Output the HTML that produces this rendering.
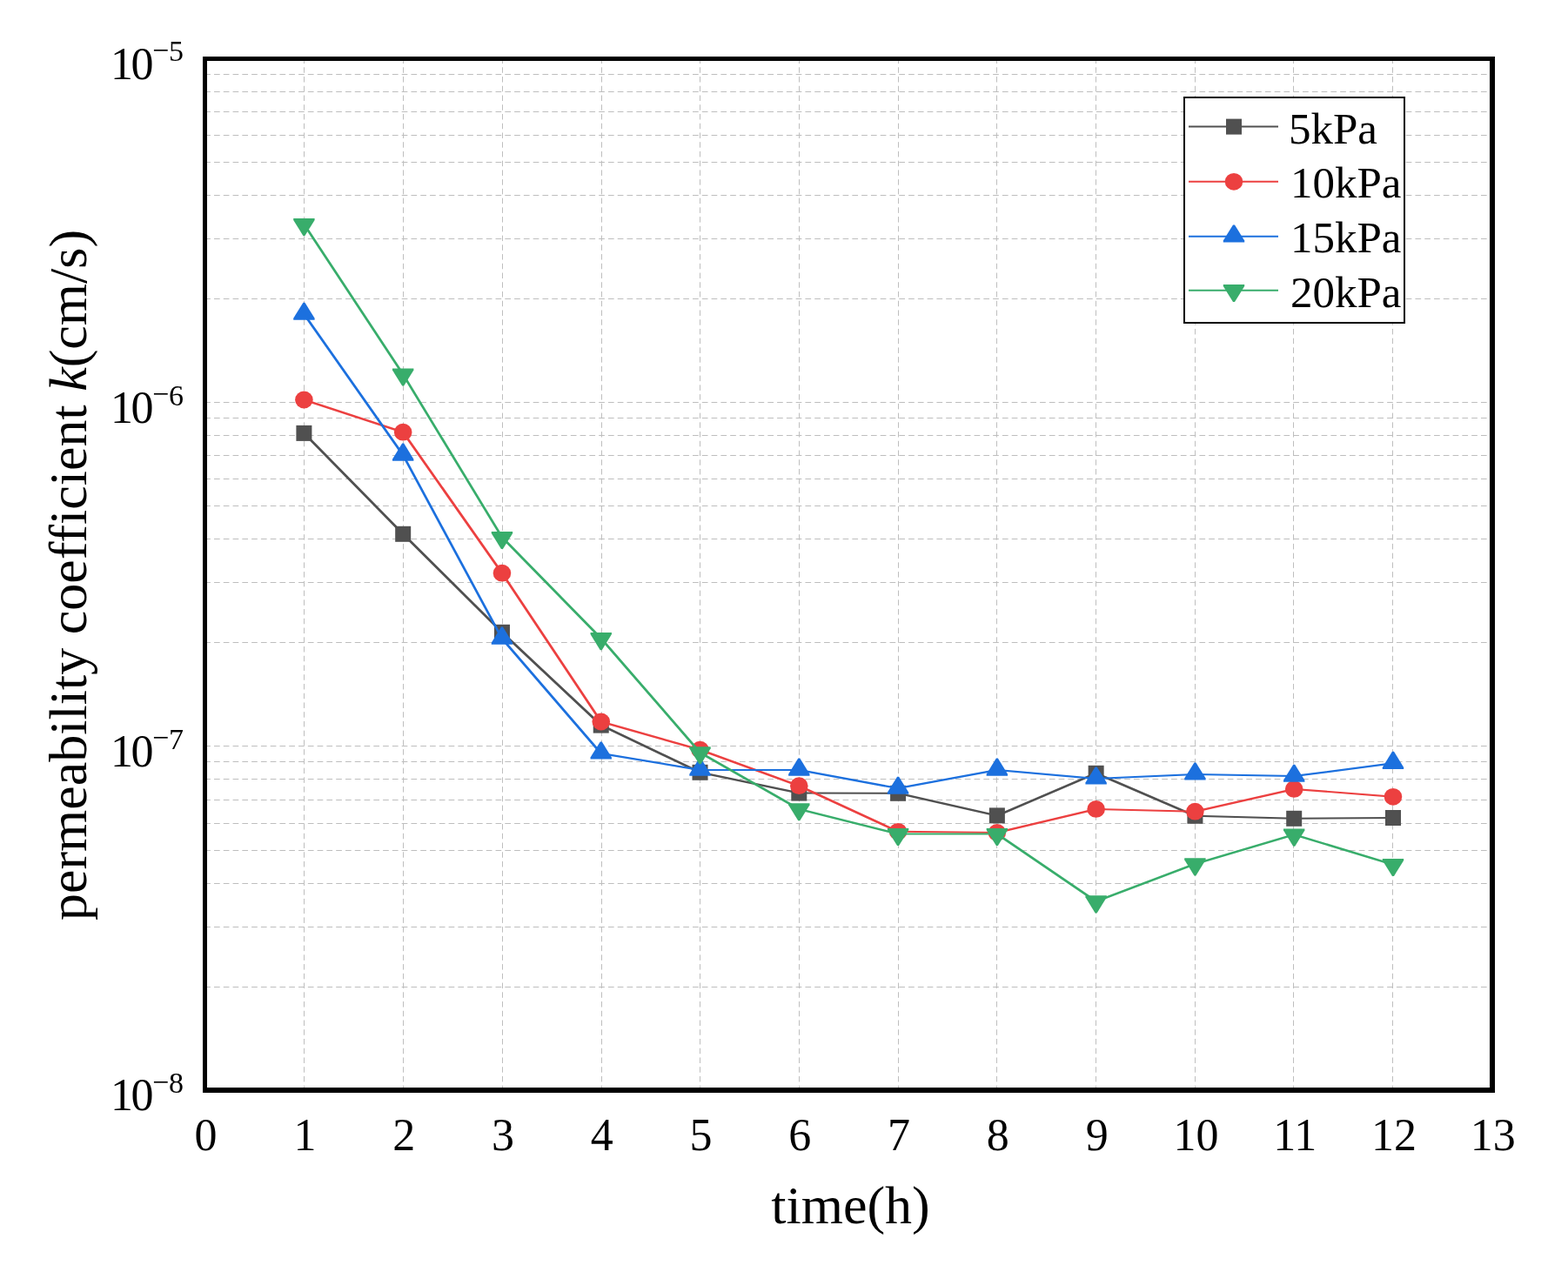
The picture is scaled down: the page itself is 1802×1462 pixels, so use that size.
<!DOCTYPE html>
<html><head><meta charset="utf-8"><style>
html,body{margin:0;padding:0;background:#fff;}
svg{display:block;}
text{font-family:"Liberation Serif","DejaVu Serif",serif;fill:#000;}
.tk{font-size:52px;}
.sp{font-size:34px;}
.lg{font-size:51px;}
.at{font-size:62px;}
</style></head><body>
<svg width="1802" height="1462" viewBox="0 0 1802 1462">
<rect width="1802" height="1462" fill="#fff"/>
<g stroke="#bebebe" stroke-width="1" stroke-dasharray="6.7 4.085" fill="none"><line x1="235.2" y1="1134.50" x2="1712" y2="1134.50"/><line x1="235.2" y1="1065.50" x2="1712" y2="1065.50"/><line x1="235.2" y1="1015.50" x2="1712" y2="1015.50"/><line x1="235.2" y1="977.50" x2="1712" y2="977.50"/><line x1="235.2" y1="946.50" x2="1712" y2="946.50"/><line x1="235.2" y1="919.50" x2="1712" y2="919.50"/><line x1="235.2" y1="895.50" x2="1712" y2="895.50"/><line x1="235.2" y1="875.50" x2="1712" y2="875.50"/><line x1="235.2" y1="857.50" x2="1712" y2="857.50"/><line x1="235.2" y1="738.50" x2="1712" y2="738.50"/><line x1="235.2" y1="669.50" x2="1712" y2="669.50"/><line x1="235.2" y1="619.50" x2="1712" y2="619.50"/><line x1="235.2" y1="581.50" x2="1712" y2="581.50"/><line x1="235.2" y1="550.50" x2="1712" y2="550.50"/><line x1="235.2" y1="523.50" x2="1712" y2="523.50"/><line x1="235.2" y1="500.50" x2="1712" y2="500.50"/><line x1="235.2" y1="480.50" x2="1712" y2="480.50"/><line x1="235.2" y1="462.50" x2="1712" y2="462.50"/><line x1="235.2" y1="343.50" x2="1712" y2="343.50"/><line x1="235.2" y1="274.50" x2="1712" y2="274.50"/><line x1="235.2" y1="224.50" x2="1712" y2="224.50"/><line x1="235.2" y1="186.50" x2="1712" y2="186.50"/><line x1="235.2" y1="155.50" x2="1712" y2="155.50"/><line x1="235.2" y1="128.50" x2="1712" y2="128.50"/><line x1="235.2" y1="105.50" x2="1712" y2="105.50"/><line x1="235.2" y1="85.50" x2="1712" y2="85.50"/></g>
<g stroke="#bebebe" stroke-width="1" stroke-dasharray="6.5 4.2375" fill="none"><line x1="349.50" y1="66.56" x2="349.50" y2="1250"/><line x1="463.50" y1="66.56" x2="463.50" y2="1250"/><line x1="577.50" y1="66.56" x2="577.50" y2="1250"/><line x1="691.50" y1="66.56" x2="691.50" y2="1250"/><line x1="804.50" y1="66.56" x2="804.50" y2="1250"/><line x1="918.50" y1="66.56" x2="918.50" y2="1250"/><line x1="1032.50" y1="66.56" x2="1032.50" y2="1250"/><line x1="1145.50" y1="66.56" x2="1145.50" y2="1250"/><line x1="1259.50" y1="66.56" x2="1259.50" y2="1250"/><line x1="1373.50" y1="66.56" x2="1373.50" y2="1250"/><line x1="1486.50" y1="66.56" x2="1486.50" y2="1250"/><line x1="1600.50" y1="66.56" x2="1600.50" y2="1250"/></g>
<path d="M348.40,496.90 L350.40,496.90 L464.18,612.80 L464.18,614.80 L462.18,614.80 L348.40,498.90ZM462.18,612.80 L464.18,612.80 L577.96,725.80 L577.96,727.80 L575.96,727.80 L462.18,614.80ZM575.96,725.80 L577.96,725.80 L691.74,832.60 L691.74,834.60 L689.74,834.60 L575.96,727.80ZM689.74,832.60 L691.74,832.60 L805.52,886.80 L805.52,888.80 L803.52,888.80 L689.74,834.60ZM803.52,886.80 L805.52,886.80 L919.30,910.60 L919.30,912.60 L917.30,912.60 L803.52,888.80ZM917.30,910.60 L919.30,910.60 L1033.08,910.80 L1033.08,912.80 L1031.08,912.80 L917.30,912.60ZM1031.08,910.80 L1033.08,910.80 L1146.86,936.40 L1146.86,938.40 L1144.86,938.40 L1031.08,912.80ZM1144.86,936.40 L1258.64,887.80 L1260.64,887.80 L1260.64,889.80 L1146.86,938.40 L1144.86,938.40ZM1258.64,887.80 L1260.64,887.80 L1374.42,936.80 L1374.42,938.80 L1372.42,938.80 L1258.64,889.80ZM1372.42,936.80 L1374.42,936.80 L1488.20,939.80 L1488.20,941.80 L1486.20,941.80 L1372.42,938.80ZM1486.20,939.80 L1599.98,939.00 L1601.98,939.00 L1601.98,941.00 L1488.20,941.80 L1486.20,941.80Z" fill="#505050"/>
<rect x="340.40" y="488.90" width="18.0" height="18.0" fill="#505050"/><rect x="454.18" y="604.80" width="18.0" height="18.0" fill="#505050"/><rect x="567.96" y="717.80" width="18.0" height="18.0" fill="#505050"/><rect x="681.74" y="824.60" width="18.0" height="18.0" fill="#505050"/><rect x="795.52" y="878.80" width="18.0" height="18.0" fill="#505050"/><rect x="909.30" y="902.60" width="18.0" height="18.0" fill="#505050"/><rect x="1023.08" y="902.80" width="18.0" height="18.0" fill="#505050"/><rect x="1136.86" y="928.40" width="18.0" height="18.0" fill="#505050"/><rect x="1250.64" y="879.80" width="18.0" height="18.0" fill="#505050"/><rect x="1364.42" y="928.80" width="18.0" height="18.0" fill="#505050"/><rect x="1478.20" y="931.80" width="18.0" height="18.0" fill="#505050"/><rect x="1591.98" y="931.00" width="18.0" height="18.0" fill="#505050"/>
<path d="M348.40,458.50 L350.40,458.50 L464.18,495.70 L464.18,497.70 L462.18,497.70 L348.40,460.50ZM462.18,495.70 L464.18,495.70 L577.96,657.70 L577.96,659.70 L575.96,659.70 L462.18,497.70ZM575.96,657.70 L577.96,657.70 L691.74,828.50 L691.74,830.50 L689.74,830.50 L575.96,659.70ZM689.74,828.50 L691.74,828.50 L805.52,860.70 L805.52,862.70 L803.52,862.70 L689.74,830.50ZM803.52,860.70 L805.52,860.70 L919.30,902.20 L919.30,904.20 L917.30,904.20 L803.52,862.70ZM917.30,902.20 L919.30,902.20 L1033.08,954.80 L1033.08,956.80 L1031.08,956.80 L917.30,904.20ZM1031.08,954.80 L1033.08,954.80 L1146.86,956.00 L1146.86,958.00 L1144.86,958.00 L1031.08,956.80ZM1144.86,956.00 L1258.64,928.90 L1260.64,928.90 L1260.64,930.90 L1146.86,958.00 L1144.86,958.00ZM1258.64,928.90 L1260.64,928.90 L1374.42,931.70 L1374.42,933.70 L1372.42,933.70 L1258.64,930.90ZM1372.42,931.70 L1486.20,905.90 L1488.20,905.90 L1488.20,907.90 L1374.42,933.70 L1372.42,933.70ZM1486.20,905.90 L1488.20,905.90 L1601.98,914.80 L1601.98,916.80 L1599.98,916.80 L1486.20,907.90Z" fill="#ec4040"/>
<ellipse cx="349.40" cy="459.50" rx="10.3" ry="9.9" fill="#ec4040"/><ellipse cx="463.18" cy="496.70" rx="10.3" ry="9.9" fill="#ec4040"/><ellipse cx="576.96" cy="658.70" rx="10.3" ry="9.9" fill="#ec4040"/><ellipse cx="690.74" cy="829.50" rx="10.3" ry="9.9" fill="#ec4040"/><ellipse cx="804.52" cy="861.70" rx="10.3" ry="9.9" fill="#ec4040"/><ellipse cx="918.30" cy="903.20" rx="10.3" ry="9.9" fill="#ec4040"/><ellipse cx="1032.08" cy="955.80" rx="10.3" ry="9.9" fill="#ec4040"/><ellipse cx="1145.86" cy="957.00" rx="10.3" ry="9.9" fill="#ec4040"/><ellipse cx="1259.64" cy="929.90" rx="10.3" ry="9.9" fill="#ec4040"/><ellipse cx="1373.42" cy="932.70" rx="10.3" ry="9.9" fill="#ec4040"/><ellipse cx="1487.20" cy="906.90" rx="10.3" ry="9.9" fill="#ec4040"/><ellipse cx="1600.98" cy="915.80" rx="10.3" ry="9.9" fill="#ec4040"/>
<path d="M348.40,360.10 L350.40,360.10 L464.18,522.00 L464.18,524.00 L462.18,524.00 L348.40,362.10ZM462.18,522.00 L464.18,522.00 L577.96,733.00 L577.96,735.00 L575.96,735.00 L462.18,524.00ZM575.96,733.00 L577.96,733.00 L691.74,864.90 L691.74,866.90 L689.74,866.90 L575.96,735.00ZM689.74,864.90 L691.74,864.90 L805.52,884.00 L805.52,886.00 L803.52,886.00 L689.74,866.90ZM803.52,884.00 L919.30,884.00 L919.30,886.00 L803.52,886.00ZM917.30,884.00 L919.30,884.00 L1033.08,905.10 L1033.08,907.10 L1031.08,907.10 L917.30,886.00ZM1031.08,905.10 L1144.86,884.00 L1146.86,884.00 L1146.86,886.00 L1033.08,907.10 L1031.08,907.10ZM1144.86,884.00 L1146.86,884.00 L1260.64,893.90 L1260.64,895.90 L1258.64,895.90 L1144.86,886.00ZM1258.64,893.90 L1372.42,888.90 L1374.42,888.90 L1374.42,890.90 L1260.64,895.90 L1258.64,895.90ZM1372.42,888.90 L1374.42,888.90 L1488.20,891.10 L1488.20,893.10 L1486.20,893.10 L1372.42,890.90ZM1486.20,891.10 L1599.98,876.20 L1601.98,876.20 L1601.98,878.20 L1488.20,893.10 L1486.20,893.10Z" fill="#1c70de"/>
<polygon points="337.20,365.80 348.40,347.70 350.40,347.70 361.60,365.80 361.60,367.80 337.20,367.80" fill="#1c70de"/><polygon points="450.98,527.70 462.18,509.60 464.18,509.60 475.38,527.70 475.38,529.70 450.98,529.70" fill="#1c70de"/><polygon points="564.76,738.70 575.96,720.60 577.96,720.60 589.16,738.70 589.16,740.70 564.76,740.70" fill="#1c70de"/><polygon points="678.54,870.60 689.74,852.50 691.74,852.50 702.94,870.60 702.94,872.60 678.54,872.60" fill="#1c70de"/><polygon points="792.32,889.70 803.52,871.60 805.52,871.60 816.72,889.70 816.72,891.70 792.32,891.70" fill="#1c70de"/><polygon points="906.10,889.70 917.30,871.60 919.30,871.60 930.50,889.70 930.50,891.70 906.10,891.70" fill="#1c70de"/><polygon points="1019.88,910.80 1031.08,892.70 1033.08,892.70 1044.28,910.80 1044.28,912.80 1019.88,912.80" fill="#1c70de"/><polygon points="1133.66,889.70 1144.86,871.60 1146.86,871.60 1158.06,889.70 1158.06,891.70 1133.66,891.70" fill="#1c70de"/><polygon points="1247.44,899.60 1258.64,881.50 1260.64,881.50 1271.84,899.60 1271.84,901.60 1247.44,901.60" fill="#1c70de"/><polygon points="1361.22,894.60 1372.42,876.50 1374.42,876.50 1385.62,894.60 1385.62,896.60 1361.22,896.60" fill="#1c70de"/><polygon points="1475.00,896.80 1486.20,878.70 1488.20,878.70 1499.40,896.80 1499.40,898.80 1475.00,898.80" fill="#1c70de"/><polygon points="1588.78,881.90 1599.98,863.80 1601.98,863.80 1613.18,881.90 1613.18,883.90 1588.78,883.90" fill="#1c70de"/>
<path d="M348.40,256.70 L350.40,256.70 L464.18,429.20 L464.18,431.20 L462.18,431.20 L348.40,258.70ZM462.18,429.20 L464.18,429.20 L577.96,616.60 L577.96,618.60 L575.96,618.60 L462.18,431.20ZM575.96,616.60 L577.96,616.60 L691.74,732.80 L691.74,734.80 L689.74,734.80 L575.96,618.60ZM689.74,732.80 L691.74,732.80 L805.52,863.90 L805.52,865.90 L803.52,865.90 L689.74,734.80ZM803.52,863.90 L805.52,863.90 L919.30,928.90 L919.30,930.90 L917.30,930.90 L803.52,865.90ZM917.30,928.90 L919.30,928.90 L1033.08,957.60 L1033.08,959.60 L1031.08,959.60 L917.30,930.90ZM1031.08,957.60 L1146.86,957.60 L1146.86,959.60 L1031.08,959.60ZM1144.86,957.60 L1146.86,957.60 L1260.64,1035.00 L1260.64,1037.00 L1258.64,1037.00 L1144.86,959.60ZM1258.64,1035.00 L1372.42,992.00 L1374.42,992.00 L1374.42,994.00 L1260.64,1037.00 L1258.64,1037.00ZM1372.42,992.00 L1486.20,958.30 L1488.20,958.30 L1488.20,960.30 L1374.42,994.00 L1372.42,994.00ZM1486.20,958.30 L1488.20,958.30 L1601.98,992.70 L1601.98,994.70 L1599.98,994.70 L1486.20,960.30Z" fill="#38ad6b"/>
<polygon points="337.20,251.00 361.60,251.00 361.60,253.00 350.40,271.10 348.40,271.10 337.20,253.00" fill="#38ad6b"/><polygon points="450.98,423.50 475.38,423.50 475.38,425.50 464.18,443.60 462.18,443.60 450.98,425.50" fill="#38ad6b"/><polygon points="564.76,610.90 589.16,610.90 589.16,612.90 577.96,631.00 575.96,631.00 564.76,612.90" fill="#38ad6b"/><polygon points="678.54,727.10 702.94,727.10 702.94,729.10 691.74,747.20 689.74,747.20 678.54,729.10" fill="#38ad6b"/><polygon points="792.32,858.20 816.72,858.20 816.72,860.20 805.52,878.30 803.52,878.30 792.32,860.20" fill="#38ad6b"/><polygon points="906.10,923.20 930.50,923.20 930.50,925.20 919.30,943.30 917.30,943.30 906.10,925.20" fill="#38ad6b"/><polygon points="1019.88,951.90 1044.28,951.90 1044.28,953.90 1033.08,972.00 1031.08,972.00 1019.88,953.90" fill="#38ad6b"/><polygon points="1133.66,951.90 1158.06,951.90 1158.06,953.90 1146.86,972.00 1144.86,972.00 1133.66,953.90" fill="#38ad6b"/><polygon points="1247.44,1029.30 1271.84,1029.30 1271.84,1031.30 1260.64,1049.40 1258.64,1049.40 1247.44,1031.30" fill="#38ad6b"/><polygon points="1361.22,986.30 1385.62,986.30 1385.62,988.30 1374.42,1006.40 1372.42,1006.40 1361.22,988.30" fill="#38ad6b"/><polygon points="1475.00,952.60 1499.40,952.60 1499.40,954.60 1488.20,972.70 1486.20,972.70 1475.00,954.60" fill="#38ad6b"/><polygon points="1588.78,987.00 1613.18,987.00 1613.18,989.00 1601.98,1007.10 1599.98,1007.10 1588.78,989.00" fill="#38ad6b"/>
<rect x="233" y="65" width="5" height="1191" fill="#000"/>
<rect x="1712" y="65" width="6" height="1191" fill="#000"/>
<rect x="233" y="65" width="1485" height="5" fill="#000"/>
<rect x="233" y="1250" width="1485" height="6" fill="#000"/>
<rect x="1361" y="112" width="253" height="259" fill="#fff" stroke="#000" stroke-width="2"/><line x1="1366" y1="145.6" x2="1469" y2="145.6" stroke="#505050" stroke-width="2.0"/><rect x="1409.00" y="136.60" width="18.0" height="18.0" fill="#505050"/><text x="1481" y="165.2" class="lg">5kPa</text><line x1="1366" y1="208.8" x2="1469" y2="208.8" stroke="#ec4040" stroke-width="2.0"/><ellipse cx="1418.00" cy="208.80" rx="10.3" ry="9.9" fill="#ec4040"/><text x="1483" y="227.4" class="lg">10kPa</text><line x1="1366" y1="271.8" x2="1469" y2="271.8" stroke="#1c70de" stroke-width="2.0"/><polygon points="1405.80,276.50 1417.00,258.40 1419.00,258.40 1430.20,276.50 1430.20,278.50 1405.80,278.50" fill="#1c70de"/><text x="1483" y="289.6" class="lg">15kPa</text><line x1="1366" y1="333.7" x2="1469" y2="333.7" stroke="#38ad6b" stroke-width="2.0"/><polygon points="1405.80,327.00 1430.20,327.00 1430.20,329.00 1419.00,347.10 1417.00,347.10 1405.80,329.00" fill="#38ad6b"/><text x="1483" y="353.2" class="lg">20kPa</text>
<text x="236.62" y="1321.5" class="tk" text-anchor="middle">0</text><text x="350.40" y="1321.5" class="tk" text-anchor="middle">1</text><text x="464.18" y="1321.5" class="tk" text-anchor="middle">2</text><text x="577.96" y="1321.5" class="tk" text-anchor="middle">3</text><text x="691.74" y="1321.5" class="tk" text-anchor="middle">4</text><text x="805.52" y="1321.5" class="tk" text-anchor="middle">5</text><text x="919.30" y="1321.5" class="tk" text-anchor="middle">6</text><text x="1033.08" y="1321.5" class="tk" text-anchor="middle">7</text><text x="1146.86" y="1321.5" class="tk" text-anchor="middle">8</text><text x="1260.64" y="1321.5" class="tk" text-anchor="middle">9</text><text x="1374.42" y="1321.5" class="tk" text-anchor="middle">10</text><text x="1488.20" y="1321.5" class="tk" text-anchor="middle">11</text><text x="1601.98" y="1321.5" class="tk" text-anchor="middle">12</text><text x="1715.76" y="1321.5" class="tk" text-anchor="middle">13</text>
<text x="127.1 150.4" y="90.80" class="tk">10</text><text x="175.1" y="68.90" class="sp">−</text><text x="194" y="70.40" class="sp">5</text><text x="127.1 150.4" y="486.00" class="tk">10</text><text x="175.1" y="464.10" class="sp">−</text><text x="194" y="465.60" class="sp">6</text><text x="127.1 150.4" y="881.20" class="tk">10</text><text x="175.1" y="859.30" class="sp">−</text><text x="194" y="860.80" class="sp">7</text><text x="127.1 150.4" y="1276.40" class="tk">10</text><text x="175.1" y="1254.50" class="sp">−</text><text x="194" y="1256.00" class="sp">8</text>
<text x="977.5" y="1406" class="at" text-anchor="middle">time(h)</text>
<text transform="translate(99.1 661) rotate(-90)" class="at" text-anchor="middle">permeability coefficient <tspan font-style="italic">k</tspan>(cm/s)</text>
</svg>
</body></html>
